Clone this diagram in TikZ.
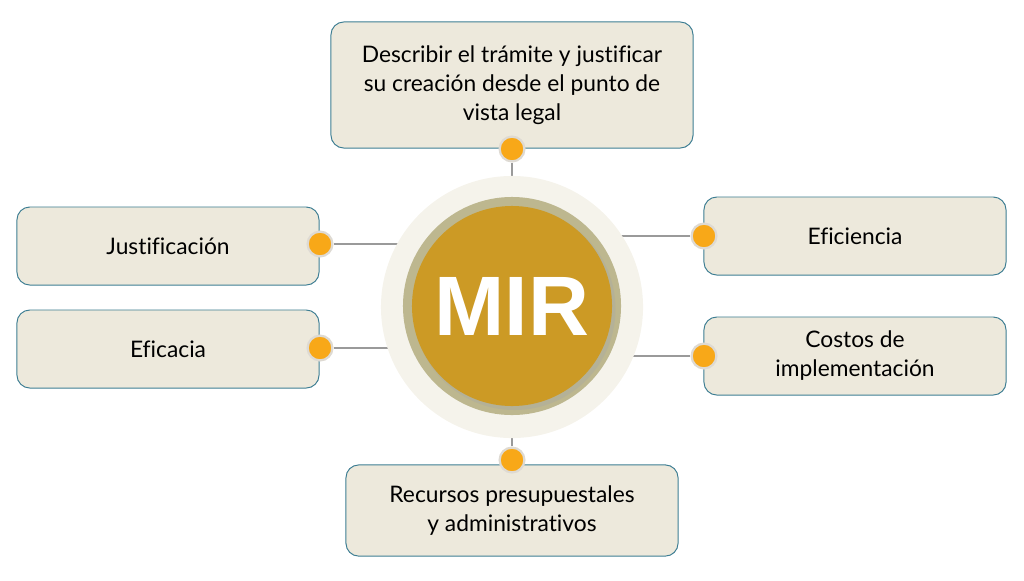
\documentclass[tikz,border=0pt]{standalone}
\usepackage{fontspec}
\setmainfont{Lato}[Ligatures=CommonOff]
\newfontfamily\mirfont{Liberation Sans}
\usetikzlibrary{positioning,backgrounds}
\definecolor{boxfill}{HTML}{EDE9DC}
\definecolor{boxline}{HTML}{3E7E93}
\definecolor{dotfill}{HTML}{F8A818}
\definecolor{dotline}{HTML}{DEDAD3}
\definecolor{linkgray}{HTML}{9A9A9A}
\definecolor{haloc}{HTML}{F5F3EB}
\definecolor{ringc}{HTML}{BDB78F}
\definecolor{goldc}{HTML}{CC9A25}
\tikzset{
  infobox/.style={draw=boxline, line width=0.7pt, rounded corners=0.32cm, fill=boxfill, align=center, inner sep=2pt, font=\fontsize{16.2}{20.6}\selectfont},
  sidebox/.style={infobox, minimum width=7.55cm, minimum height=1.95cm},
  pin/.style={circle, draw=dotline, line width=1.6pt, fill=dotfill, minimum size=0.62cm, inner sep=0pt},
  linkline/.style={draw=linkgray, line width=1.3pt},
  disc/.style={circle, inner sep=0pt}
}
\begin{document}
\begin{tikzpicture}[x=0.025cm, y=-0.025cm]
  \useasboundingbox (0,0) rectangle (1024,580);
  % centre
  \node[disc, fill=haloc, minimum size=6.55cm] (halo) at (512,307) {};
  \node[disc, fill=ringc, minimum size=5.45cm] (ring) at (512,306) {};
  \node[disc, fill=black!35, opacity=0.35, minimum size=5.05cm] (shade) at (514.5,309) {};
  \node[disc, fill=goldc, minimum size=5cm, text=white, font=\mirfont\bfseries\fontsize{60}{60}\selectfont] (mir) at (512,306) {MIR};
  % boxes
  \node[infobox, minimum width=9.05cm, minimum height=3.15cm] (legal) at (512,85)
    {Describir el trámite y justificar\\su creación desde el punto de\\vista legal};
  \node[sidebox] (just) at (168,246) {Justificación};
  \node[sidebox] (efca) at (168,349) {Eficacia};
  \node[sidebox] (efci) at (855,236) {Eficiencia};
  \node[sidebox] (cost) at (855,356) {Costos de\\implementación};
  \node[infobox, minimum width=8.3cm, minimum height=2.28cm] (recu) at (512,510.5)
    {Recursos presupuestales\\y administrativos};
  % pins
  \node[pin] (pLegal) at (512,149) {};
  \node[pin] (pJust) at (320,244) {};
  \node[pin] (pEfca) at (320,348) {};
  \node[pin] (pEfci) at (704,236) {};
  \node[pin] (pCost) at (704,356) {};
  \node[pin] (pRecu) at (512,460) {};
  \begin{pgfonlayer}{background}
    \draw[linkline] (pLegal) -- (mir);
    \draw[linkline] (pRecu) -- (mir);
    \draw[linkline] (pJust) -- (pJust -| mir);
    \draw[linkline] (pEfca) -- (pEfca -| mir);
    \draw[linkline] (pEfci) -- (pEfci -| mir);
    \draw[linkline] (pCost) -- (pCost -| mir);
  \end{pgfonlayer}
\end{tikzpicture}
\end{document}
